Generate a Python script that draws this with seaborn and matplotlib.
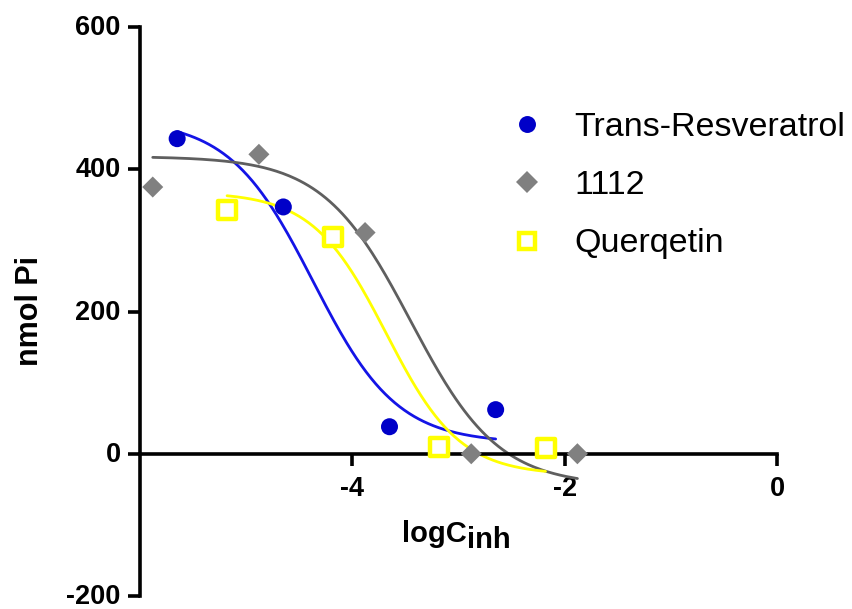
import numpy as np
import pandas as pd
import matplotlib
matplotlib.use("Agg")
import matplotlib.pyplot as plt
from matplotlib.lines import Line2D
from matplotlib.ticker import FixedLocator
from matplotlib.transforms import ScaledTranslation
import seaborn as sns

sns.set_style("white")
plt.rcParams["font.family"] = ["Liberation Sans", "DejaVu Sans"]
plt.rcParams["axes.unicode_minus"] = False
plt.rcParams["text.color"] = "black"
plt.rcParams["axes.labelcolor"] = "black"
plt.rcParams["xtick.color"] = "black"
plt.rcParams["ytick.color"] = "black"

# measured points (log inhibitor concentration vs nmol Pi)
series_names = ["Trans-Resveratrol", "1112", "Querqetin"]
resv_logc = [-5.65, -4.65, -3.65, -2.65]
resv_pi = [443, 347, 38, 62]
c1112_logc = [-5.88, -4.88, -3.88, -2.88, -1.88]
c1112_pi = [375, 421, 311, 0, 0]
querq_logc = [-5.18, -4.18, -3.18, -2.18]
querq_pi = [343, 305, 9, 8]

# four-parameter logistic fits: top, bottom, logIC50, Hill slope
resv_fit = (470, 15, -4.37, 1.1)
c1112_fit = (418, -45, -3.45, 1.05)
querq_fit = (368, -30, -3.68, 1.25)

x_ticks = [-4, -2, 0]
y_ticks = [-200, 0, 200, 400, 600]


def logistic(x, top, bottom, logic50, hill):
    return bottom + (top - bottom) / (1 + 10 ** ((x - logic50) * hill))


fig = plt.figure(figsize=(8.52, 6.09), dpi=100)
ax = fig.add_axes([140 / 852, 13 / 609, 637 / 852, 569 / 609])

styles = [
    dict(marker="o", s=150, color="#0000c8", edgecolor="none", linewidth=0),
    dict(marker="D", s=115, color="#808080", edgecolor="none", linewidth=0),
    dict(marker="s", s=150, color="white", edgecolor="#ffff00", linewidth=3.2),
]
line_colors = ["#1414e6", "#5f5f5f", "#ffff00"]

datasets = [
    (resv_logc, resv_pi, resv_fit),
    (c1112_logc, c1112_pi, c1112_fit),
    (querq_logc, querq_pi, querq_fit),
]

for name, (xs, ys, fit), st, lc in zip(series_names, datasets, styles, line_colors):
    grid = np.linspace(min(xs), max(xs), 200)
    curve = pd.DataFrame({"logC": grid, "Pi": logistic(grid, *fit)})
    sns.lineplot(data=curve, x="logC", y="Pi", color=lc, linewidth=2.0,
                 ax=ax, zorder=2, legend=False)
    pts = pd.DataFrame({"logC": xs, "Pi": ys})
    sns.scatterplot(data=pts, x="logC", y="Pi", ax=ax, zorder=3,
                    clip_on=False, legend=False, **st)

ax.set_xlim(-6, 0)
ax.set_ylim(-200, 600)

for side in ["top", "right"]:
    ax.spines[side].set_visible(False)
ax.spines["bottom"].set_position(("data", 0))
ax.spines["left"].set_bounds(-200, 600)
ax.spines["bottom"].set_bounds(-6, 0)
for side in ["left", "bottom"]:
    ax.spines[side].set_linewidth(2.6)
    ax.spines[side].set_color("black")

ax.set_xticks(x_ticks)
ax.set_yticks(y_ticks)
ax.xaxis.set_minor_locator(FixedLocator([0]))
ax.tick_params(axis="both", which="major", direction="out", length=8.5,
               width=2.6, color="black", labelcolor="black", labelsize=19.5,
               bottom=True, left=True)
ax.tick_params(axis="x", which="major", pad=7.5)
ax.tick_params(axis="y", which="major", pad=5.5)
ax.tick_params(axis="x", which="minor", direction="in", length=7,
               width=2.6, color="black", bottom=True)
for lab in ax.get_xticklabels() + ax.get_yticklabels():
    lab.set_fontweight("bold")

# y tick labels sit a touch above their ticks
lift = ScaledTranslation(0, 2 / 100, fig.dpi_scale_trans)
for tick in ax.yaxis.get_major_ticks():
    tick.label1.set_transform(tick.label1.get_transform() + lift)

ax.set_xlabel("")
ax.set_ylabel("nmol Pi", fontsize=22, fontweight="bold")
ax.yaxis.set_label_coords(-0.149, 0.5)

main = fig.text(402 / 852, 1 - 542 / 609, "logC", fontsize=21,
                fontweight="bold", ha="left", va="baseline")
ax.annotate("inh", xy=(1, 0), xycoords=main, xytext=(0.5, 0),
            textcoords="offset points", fontsize=21, fontweight="bold",
            ha="left", va="baseline", annotation_clip=False)

handles = [
    Line2D([], [], linestyle="none", marker="o", markersize=12.2,
           markerfacecolor="#0000c8", markeredgewidth=0),
    Line2D([], [], linestyle="none", marker="D", markersize=10.7,
           markerfacecolor="#808080", markeredgewidth=0),
    Line2D([], [], linestyle="none", marker="s", markersize=12.2,
           markerfacecolor="white", markeredgecolor="#ffff00",
           markeredgewidth=3.2),
]
fig.legend(handles, series_names, loc="upper left",
           bbox_to_anchor=(510 / 852, 1 - 112 / 609), frameon=False,
           fontsize=24.5, borderpad=0, borderaxespad=0, handlelength=1.0,
           handletextpad=0.9, labelspacing=0.8)

fig.savefig("out.png", dpi=100)
